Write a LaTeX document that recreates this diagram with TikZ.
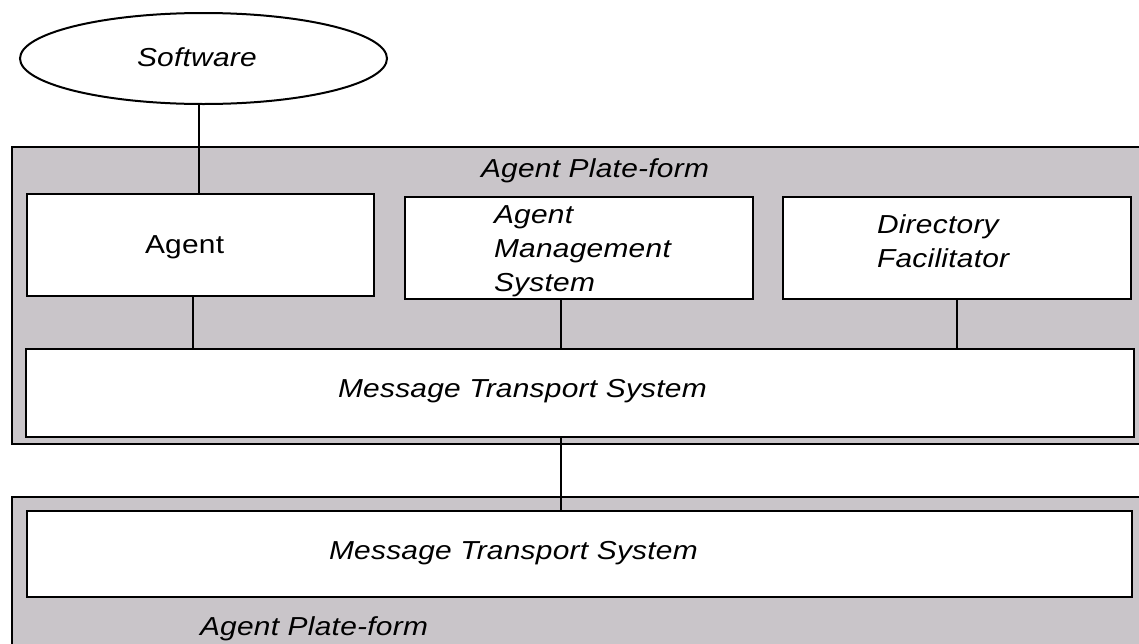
\documentclass[tikz,border=0pt]{standalone}
\usepackage{fontspec}
\setmainfont{Liberation Sans}[FakeStretch=1.15,LetterSpace=1]
\usepackage{xcolor}
\usetikzlibrary{shapes.geometric}
\definecolor{platgray}{RGB}{201,197,201}

\begin{document}
\begin{tikzpicture}[x=0.5pt,y=-0.5pt,line width=1pt,
  platform/.style={draw,fill=platgray,inner sep=0pt},
  unit/.style={draw,fill=white,inner sep=0pt},
  lbl/.style={inner sep=0pt,anchor=base west,font=\fontsize{13}{17}\selectfont\itshape},
  multilbl/.style={inner sep=0pt,anchor=north west,align=left,font=\fontsize{13}{17}\selectfont\itshape}]
\useasboundingbox (0,0) rectangle (1139,643);
\clip (0,0) rectangle (1139,643);

\node[platform,minimum width=569pt,minimum height=148.5pt] (platA) at (581,295.5) {};
\node[platform,minimum width=569pt,minimum height=81.5pt] (platB) at (581,578.5) {};

\node[draw,ellipse,fill=white,inner sep=0pt,minimum width=183.5pt,minimum height=45.5pt] (soft) at (203.5,58.5) {};
\node[unit,minimum width=173.5pt,minimum height=51pt] (agent) at (200.5,245) {};
\node[unit,minimum width=174pt,minimum height=51pt] (ams) at (579,248) {};
\node[unit,minimum width=174pt,minimum height=51pt] (dfac) at (957,248) {};
\node[unit,minimum width=554pt,minimum height=44pt] (mtsA) at (580,393) {};
\node[unit,minimum width=552.5pt,minimum height=43pt] (mtsB) at (579.5,554) {};

\draw (199,0 |- soft.south) -- (199,0 |- agent.north);
\draw (193,0 |- agent.south) -- (193,0 |- mtsA.north);
\draw (561,0 |- ams.south) -- (561,0 |- mtsA.north);
\draw (dfac.south) -- (dfac.south |- mtsA.north);
\draw (561,0 |- mtsA.south) -- (561,0 |- mtsB.north);

\node[lbl] (softlbl) at (136,66) {Software};
\node[lbl] (platAlbl) at (480,177) {Agent Plate-form};
\node[lbl,font=\fontsize{13}{17}\selectfont] (agentlbl) at (144,253) {Agent};
\node[multilbl] (amslbl) at (493,205) {Agent\\Management\\System};
\node[multilbl] (dfaclbl) at (876,214) {Directory\\Facilitator};
\node[lbl] (mtsAlbl) at (337,397) {Message Transport System};
\node[lbl] (mtsBlbl) at (328,559) {Message Transport System};
\node[lbl] (platBlbl) at (199,635) {Agent Plate-form};
\end{tikzpicture}
\end{document}
